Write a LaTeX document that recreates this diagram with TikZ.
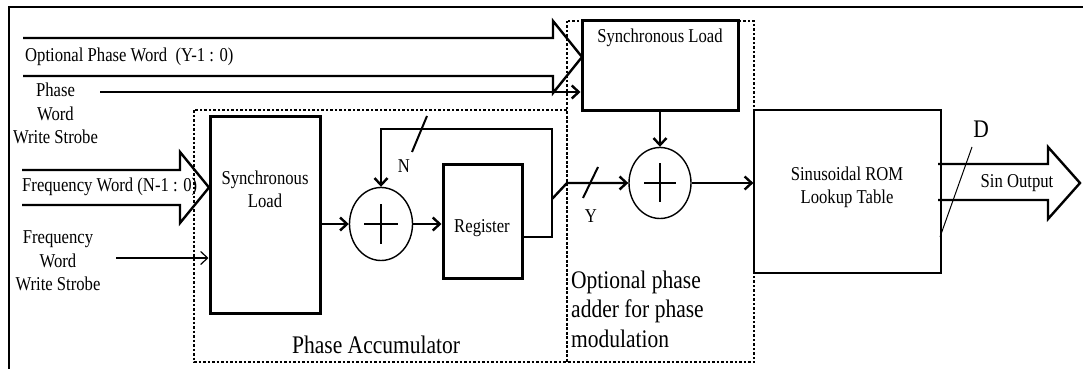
\documentclass[tikz,border=0pt]{standalone}
\usepackage{fontspec}
\setmainfont{Liberation Serif}[FakeStretch=0.85]
\usetikzlibrary{arrows.meta,shapes.geometric}
\begin{document}
\begin{tikzpicture}[x=1pt,y=-1pt,
  thickln/.style={line width=2.4pt},
  thinln/.style={line width=1.2pt},
  arr/.style={-{Straight Barb[length=7pt,width=13pt]}},
  small/.style={font=\fontsize{19.6}{23.5}\selectfont, inner sep=0pt},
  large/.style={font=\fontsize{25.3}{29.5}\selectfont, inner sep=0pt},
  box/.style={draw, line width=3pt, inner sep=0pt},
  thinbox/.style={draw, line width=1.2pt, inner sep=0pt},
  adder/.style={draw, ellipse, line width=1.4pt, inner sep=0pt},
  dotbox/.style={draw, line width=1.3pt, dash pattern=on 2.5pt off 2pt},
  fat/.style={line width=2.4pt, line join=miter},
  slash/.style={line width=2pt}
]
\useasboundingbox (0,0) rectangle (1083,369);
% frame
\draw[line width=2pt] (9,372) -- (9,7) -- (1086,7);
% dotted groups
\draw[dotbox] (194,110) rectangle (567,362);
\draw[dotbox] (567,21) rectangle (754,362);
% blocks
\node[box, minimum width=110pt, minimum height=197pt] (syncA) at (265,214.5) {};
\node[box, minimum width=156pt, minimum height=89pt] (syncB) at (660,65.5) {};
\node[box, minimum width=79pt, minimum height=114pt] (reg) at (482.5,221) {};
\node[thinbox, minimum width=187pt, minimum height=163pt] (rom) at (847.5,191.5) {};
\node[adder, minimum width=63pt, minimum height=73pt] (c1) at (381,224) {};
\node[adder, minimum width=62pt, minimum height=71pt] (c2) at (660,183) {};
% plus signs
\draw[thickln] ([xshift=-17pt]c1.center) -- ([xshift=17pt]c1.center);
\draw[thickln] ([yshift=20pt]c1.center) -- ([yshift=-20pt]c1.center);
\draw[thickln] ([xshift=-16pt]c2.center) -- ([xshift=16pt]c2.center);
\draw[thickln] ([yshift=20pt]c2.center) -- ([yshift=-19pt]c2.center);
% fat bus arrows
\draw[fat] (23,38) -- (553,38) -- (553,21) -- (582,57) -- (553,93) -- (553,76) -- (23,76);
\draw[fat] (22,170) -- (180,170) -- (180,152) -- (209,187.5) -- (180,223) -- (180,205) -- (22,205);
\draw[fat] (938,164) -- (1048,164) -- (1048,147) -- (1080,183) -- (1048,219) -- (1048,200) -- (938,200);
% connectors
\coordinate (pws) at (100,92);
\coordinate (fws) at (116,258);
\coordinate (fbA) at (552,237);
\coordinate (fbB) at (552,129);
\coordinate (brA) at (552,199);
\coordinate (brB) at (567,183);
\draw[thickln, arr] (pws) -- (syncB.west |- pws);
\draw[thinln, arr] (fws) -- (syncA.west |- fws);
\draw[thickln, arr] (syncA.east |- c1.west) -- (c1.west);
\draw[thickln, arr] (c1.east) -- (reg.west |- c1.east);
\draw[thickln, arr] (reg.east |- fbA) -- (fbA) -- (fbB) -| (c1.north);
\draw[thickln, arr] (brA) -- (brB) -- (c2.west);
\draw[thickln, arr] (syncB.south) -- (c2.north);
\draw[thickln, arr] (c2.east) -- (rom.west |- c2.east);
% bus width slashes
\draw[slash] (412,152) -- (427,116);
\draw[slash] (583,198) -- (598,167);
\draw[line width=1pt] (940,237) -- (972,147);
% texts
\node[small, anchor=base west] (tOPW) at (25,61) {Optional Phase Word\ \ (Y-1 : 0)};
\node[small, align=center, anchor=north] (tPWS) at (55.5,83) {Phase\\Word\\Write Strobe};
\node[small, anchor=base west] (tFW) at (22,191) {Frequency Word (N-1 : 0)};
\node[small, align=center, anchor=north] (tFWS) at (58,230.5) {Frequency\\Word\\Write Strobe};
\node[small, align=center, anchor=north] (tSA) at (265,170.6) {Synchronous\\Load};
\node[small, anchor=base] (tSB) at (660,43) {Synchronous Load};
\node[small, anchor=base] (tReg) at (482,232) {Register};
\node[small, anchor=base] (tN) at (404,172) {N};
\node[small, anchor=base] (tY) at (591,222) {Y};
\node[small, align=center, anchor=north] (tROM) at (847,166.6) {Sinusoidal ROM\\Lookup Table};
\node[small, anchor=base] (tSin) at (1017,187) {Sin Output};
\node[large, anchor=base] (tD) at (981,137) {D};
\node[large, anchor=base west] (tPA) at (292,353) {Phase Accumulator};
\node[large, align=left, anchor=north west] (tOP) at (571,270.7) {Optional phase\\adder for phase\\modulation};
\end{tikzpicture}
\end{document}
